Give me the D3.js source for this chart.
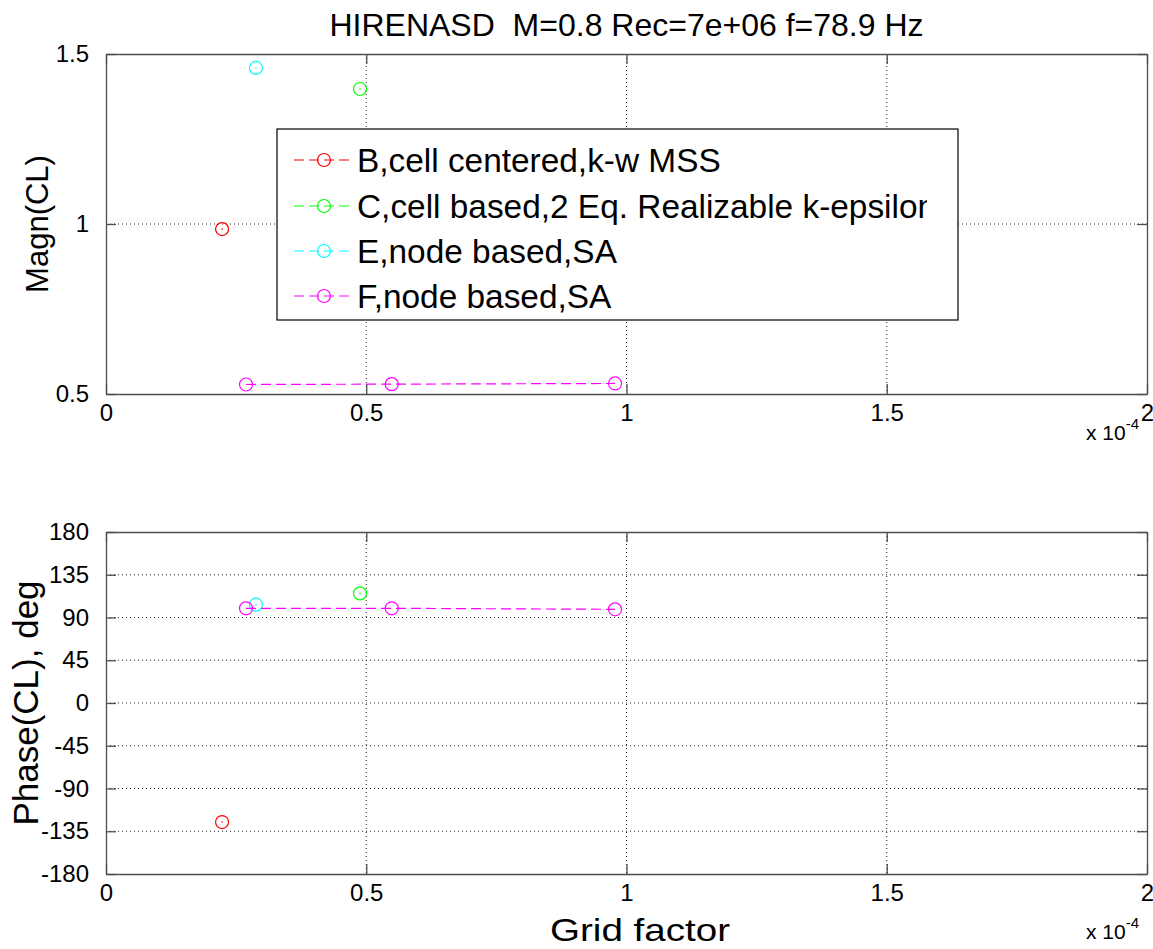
<!DOCTYPE html>
<html>
<head>
<meta charset="utf-8">
<script src="https://cdn.jsdelivr.net/npm/d3@7/dist/d3.min.js"></script>
<style>
  html, body { margin: 0; padding: 0; background: #fff; }
  svg { display: block; font-family: "Liberation Sans", Arial, Helvetica, sans-serif; }
  .pre { white-space: pre; }
</style>
</head>
<body>
<svg id="chart" width="1153" height="949"></svg>
<script>
// Series labels and colours
const seriesNames = [
  "B,cell centered,k-w MSS",
  "C,cell based,2 Eq. Realizable k-epsilon",
  "E,node based,SA",
  "F,node based,SA"
];
const seriesColors = ["#ff0000", "#00ff00", "#00ffff", "#ff00ff"];

// Grid factor per series
const gridB = [0.223e-4];
const gridC = [0.488e-4];
const gridE = [0.288e-4];
const gridF = [0.269e-4, 0.549e-4, 0.978e-4];

// Magnitude of CL per series
const magnB = [0.985];
const magnC = [1.397];
const magnE = [1.459];
const magnF = [0.528, 0.529, 0.531];

// Phase of CL (deg) per series
const phaseB = [-125.3];
const phaseC = [115.4];
const phaseE = [103.5];
const phaseF = [99.7, 99.7, 98.6];

// Tick values
const xTicks = [0, 0.5e-4, 1e-4, 1.5e-4, 2e-4];
const magnTicks = [0.5, 1, 1.5];
const phaseTicks = [-180, -135, -90, -45, 0, 45, 90, 135, 180];

const titleText = "HIRENASD  M=0.8 Rec=7e+06 f=78.9 Hz";

const grids = [gridB, gridC, gridE, gridF];
const magns = [magnB, magnC, magnE, magnF];
const phases = [phaseB, phaseC, phaseE, phaseF];

const svg = d3.select("#chart");
const left = 106, right = 1147;
const axColor = "#4d4d4d";

// plain ASCII hyphen for negative tick values
const plainFmt = d3.formatLocale({ decimal: ".", thousands: ",", grouping: [3], currency: ["", ""], minus: "-" }).format("~g");

function drawPanel(top, bottom, yDomain, yTicks, values, yLabel, yLabelX, yLabelSize, expBaseline) {
  const x = d3.scaleLinear().domain([0, 2e-4]).range([left, right]);
  const y = d3.scaleLinear().domain(yDomain).range([bottom, top]);
  const g = svg.append("g");

  // dotted grid at interior ticks
  const gridG = g.append("g").attr("stroke", "#222").attr("stroke-width", 1)
    .attr("stroke-dasharray", "1,3");
  xTicks.filter(t => t > 0 && t < 2e-4).forEach(t => {
    gridG.append("line").attr("x1", x(t)).attr("x2", x(t)).attr("y1", top).attr("y2", bottom);
  });
  yTicks.filter(t => t > yDomain[0] && t < yDomain[1]).forEach(t => {
    gridG.append("line").attr("x1", left).attr("x2", right).attr("y1", y(t)).attr("y2", y(t));
  });

  const fmtX = d => plainFmt(+(d * 1e4).toFixed(3));
  const styleAxis = sel => {
    sel.select(".domain").attr("stroke", axColor).attr("stroke-width", 1.3);
    sel.selectAll(".tick line").attr("stroke", axColor).attr("stroke-width", 1.3);
    sel.selectAll(".tick text").attr("fill", "#000").attr("font-size", 24)
      .attr("font-family", "Liberation Sans, Arial, sans-serif");
  };

  g.append("g").attr("transform", `translate(0,${bottom})`)
    .call(d3.axisBottom(x).tickValues(xTicks).tickFormat(fmtX).tickSizeInner(-10).tickSizeOuter(0).tickPadding(10))
    .call(styleAxis);
  g.append("g").attr("transform", `translate(0,${top})`)
    .call(d3.axisTop(x).tickValues(xTicks).tickFormat("").tickSizeInner(-10).tickSizeOuter(0))
    .call(styleAxis);
  g.append("g").attr("transform", `translate(${left},0)`)
    .call(d3.axisLeft(y).tickValues(yTicks).tickFormat(plainFmt).tickSizeInner(-10).tickSizeOuter(0).tickPadding(17))
    .call(styleAxis);
  g.append("g").attr("transform", `translate(${right},0)`)
    .call(d3.axisRight(y).tickValues(yTicks).tickFormat("").tickSizeInner(-10).tickSizeOuter(0))
    .call(styleAxis);

  // series
  grids.forEach((gx, i) => {
    const pts = gx.map((v, j) => [v, values[i][j]]);
    const col = seriesColors[i];
    if (pts.length > 1) {
      g.append("path")
        .attr("d", d3.line().x(d => x(d[0])).y(d => y(d[1]))(pts))
        .attr("fill", "none").attr("stroke", col).attr("stroke-width", 1.2)
        .attr("stroke-dasharray", "10,5");
    }
    pts.forEach(p => {
      g.append("circle").attr("cx", x(p[0])).attr("cy", y(p[1])).attr("r", 6.5)
        .attr("fill", "none").attr("stroke", col).attr("stroke-width", 1.2);
      if (pts.length === 1) {
        g.append("circle").attr("cx", x(p[0])).attr("cy", y(p[1])).attr("r", 0.8).attr("fill", col);
      }
    });
  });

  // y label
  g.append("text")
    .attr("transform", `translate(${yLabelX},${(top + bottom) / 2}) rotate(-90)`)
    .attr("text-anchor", "middle").attr("font-size", yLabelSize).attr("fill", "#000")
    .text(yLabel);

  // exponent marker
  const ex = g.append("text").attr("x", 1086).attr("y", expBaseline)
    .attr("font-size", 21).attr("fill", "#000");
  ex.append("tspan").text("x 10");
  ex.append("tspan").attr("dy", -11).attr("font-size", 15).text("-4");

  return { x, y, g };
}

// title
svg.append("text").attr("class", "pre").attr("x", (left + right) / 2).attr("y", 36)
  .attr("text-anchor", "middle").attr("font-size", 32).attr("fill", "#000")
  .text(titleText);

drawPanel(54, 394, [0.5, 1.5], magnTicks, magns, "Magn(CL)", 48, 31, 440);
drawPanel(532, 874, [-180, 180], phaseTicks, phases, "Phase(CL), deg", 38, 35, 939);

// x label
svg.append("text").attr("x", 640).attr("y", 941)
  .attr("text-anchor", "middle").attr("font-size", 32).attr("fill", "#000")
  .attr("textLength", 180).attr("lengthAdjust", "spacingAndGlyphs")
  .text("Grid factor");

// legend
const lg = svg.append("g");
const lx = 277, ly = 129, lw = 681, lh = 191;
lg.append("rect").attr("x", lx).attr("y", ly).attr("width", lw).attr("height", lh)
  .attr("fill", "#fff").attr("stroke", "#000").attr("stroke-width", 1.2);
const rowY = [160, 206, 251, 296];
const defs = svg.append("defs");
const legendSize = 33.4;
seriesNames.forEach((name, i) => {
  const yy = rowY[i];
  const col = seriesColors[i];
  lg.append("line").attr("x1", 294).attr("x2", 354).attr("y1", yy).attr("y2", yy)
    .attr("stroke", col).attr("stroke-width", 1.2).attr("stroke-dasharray", "10,5");
  lg.append("circle").attr("cx", 324).attr("cy", yy).attr("r", 6.5)
    .attr("fill", "none").attr("stroke", col).attr("stroke-width", 1.2);
  const t = lg.append("text").attr("x", 357).attr("y", yy + 12)
    .attr("font-size", legendSize).attr("fill", "#000").text(name);
  if (i === 1) {
    // the long entry overflows its slot; the right part of its last glyph is cut off
    const len = t.node().getComputedTextLength();
    defs.append("clipPath").attr("id", "legclip")
      .append("rect").attr("x", 357).attr("y", yy - 30)
      .attr("width", len - 0.27 * legendSize).attr("height", 50);
    t.attr("clip-path", "url(#legclip)");
  }
});
</script>
</body>
</html>
